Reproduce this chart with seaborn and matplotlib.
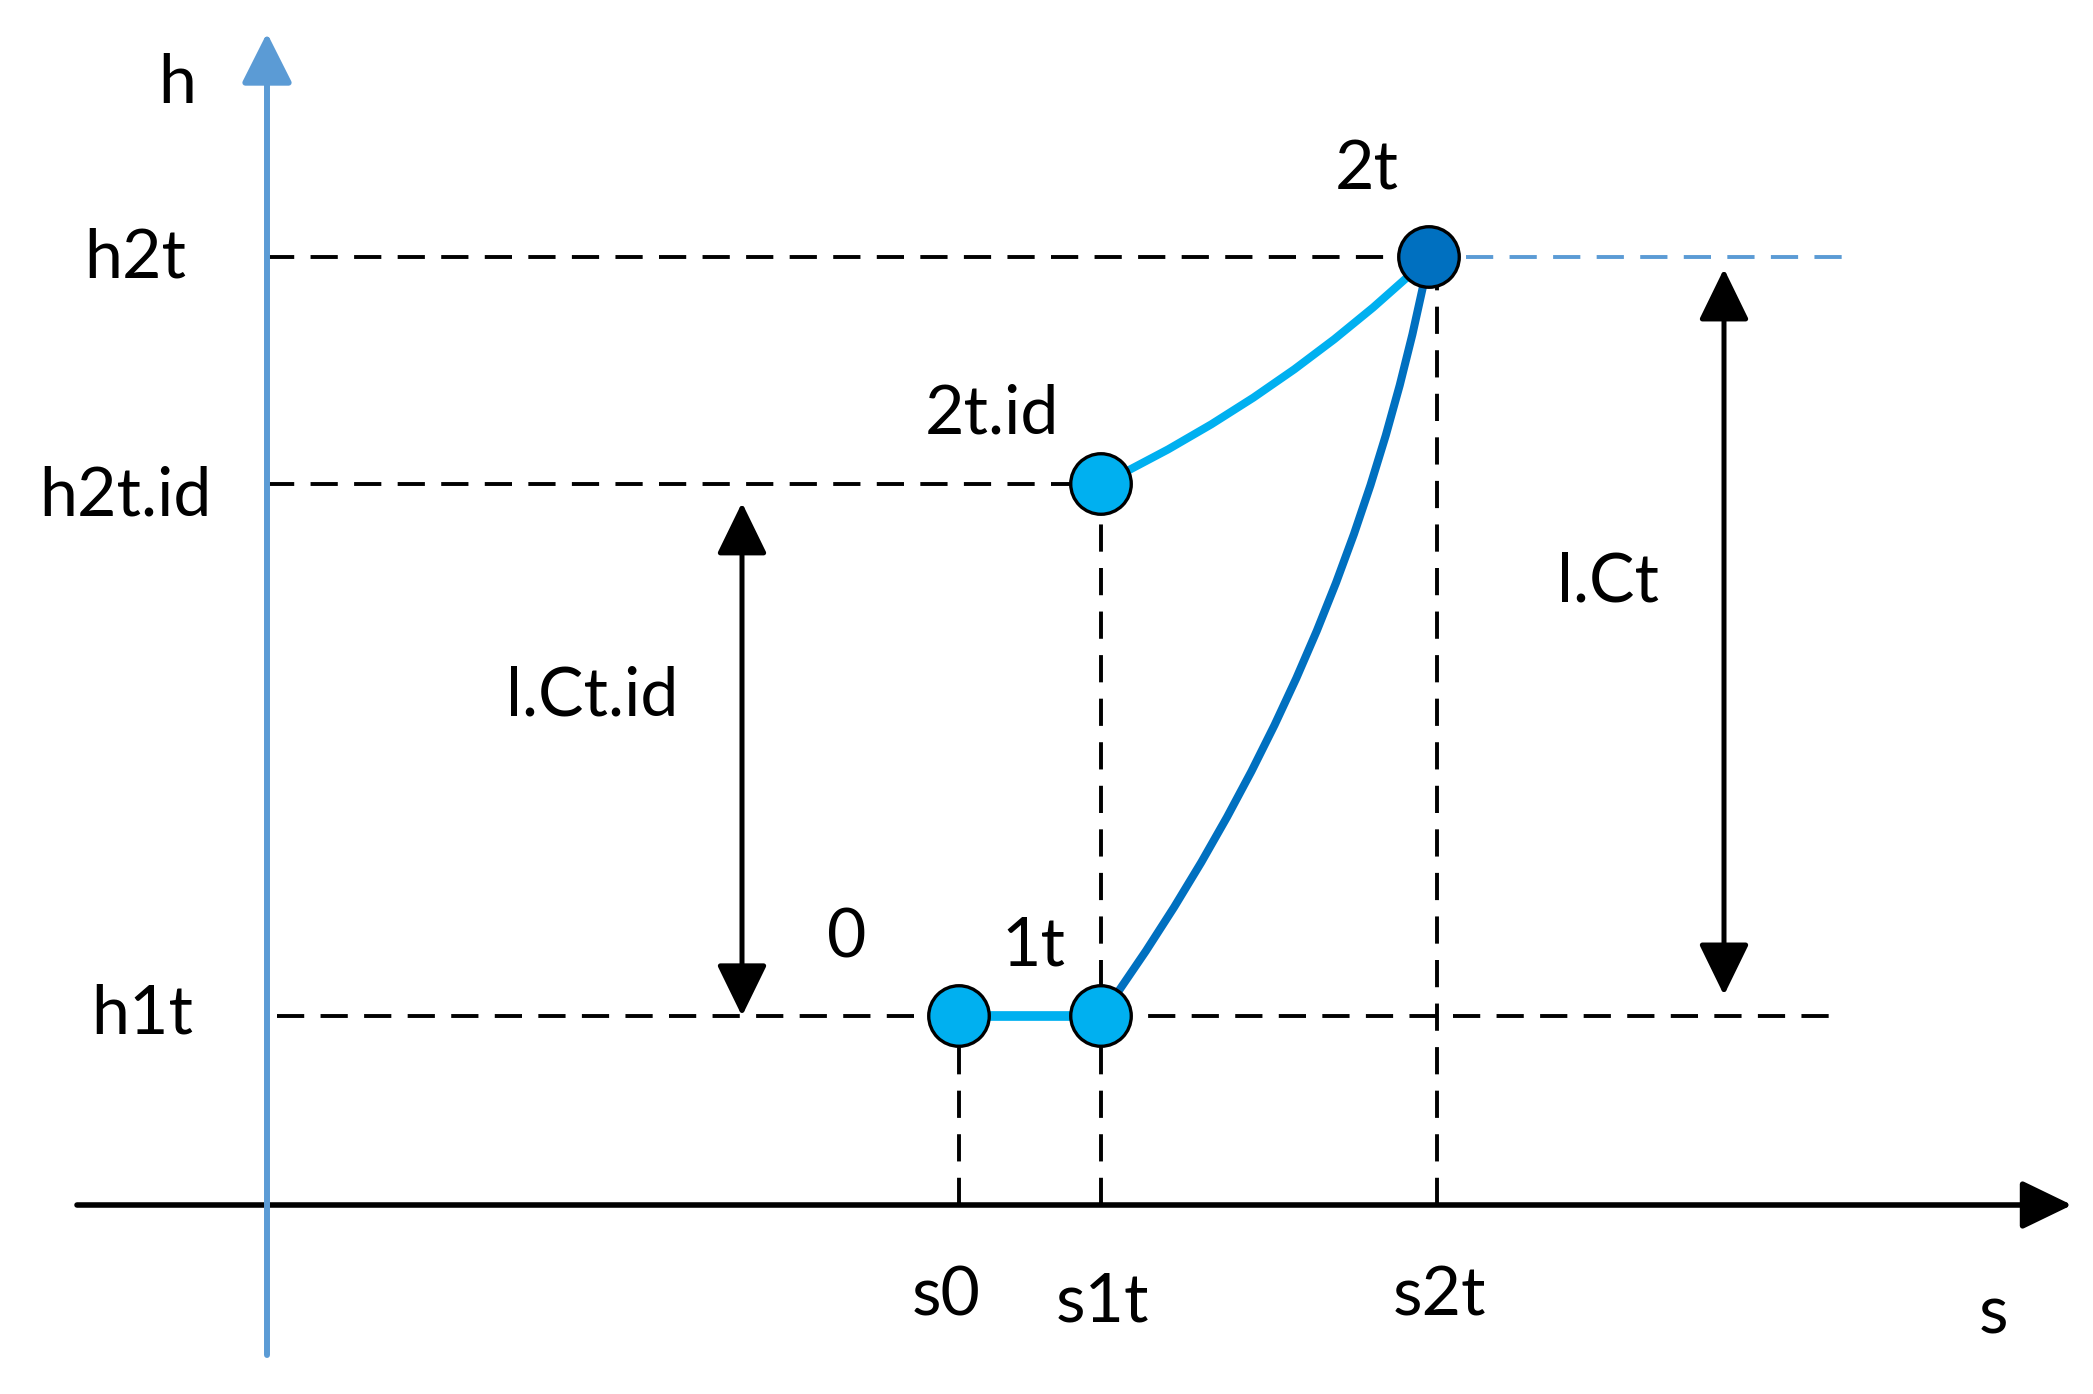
import matplotlib
matplotlib.use("Agg")
import matplotlib.pyplot as plt
import seaborn as sns
import pandas as pd

# ---- data (diagram units) ----
s_names = ["s0", "s1t", "s2t"]
s_values = [6.92, 8.34, 11.62]
h_names = ["h1t", "h2t.id", "h2t"]
h_values = [1.89, 7.21, 9.48]
state_names = ["0", "1t", "2t.id", "2t"]
state_s = [6.92, 8.34, 8.34, 11.62]
state_h = [1.89, 1.89, 7.21, 9.48]
state_colors = ["#00B0F0", "#00B0F0", "#00B0F0", "#0070C0"]

LIGHT = "#00B0F0"
DARK = "#0070C0"
AXBLUE = "#5B9BD5"

sns.set_theme(style="white")
plt.rcParams["font.family"] = ["Lato", "DejaVu Sans"]

fig = plt.figure(figsize=(20.93, 13.94), dpi=100)
ax = fig.add_axes([0, 0, 1, 1])
ax.set_xlim(-2.67, 18.26)
ax.set_ylim(-1.89, 12.05)
ax.axis("off")

S = dict(zip(s_names, s_values))
H = dict(zip(h_names, h_values))

dash = dict(color="black", lw=2.8, dashes=(7.0, 4.2), zorder=1, solid_capstyle="butt")
# horizontal guides
ax.plot([0, S["s2t"]], [H["h2t"], H["h2t"]], **dash)
ax.plot([S["s2t"] + 0.37, 15.77], [H["h2t"], H["h2t"]], color=AXBLUE, lw=2.8,
        dashes=(7.0, 4.2), zorder=1)
ax.plot([0, S["s1t"]], [H["h2t.id"], H["h2t.id"]], **dash)
ax.plot([0.10, 15.66], [H["h1t"], H["h1t"]], **dash)
# vertical guides
ax.plot([S["s0"], S["s0"]], [0, H["h1t"]], **dash)
ax.plot([S["s1t"], S["s1t"]], [0, H["h2t.id"]], **dash)
ax.plot([S["s2t"] + 0.08, S["s2t"] + 0.08], [0, H["h2t"]], **dash)

# axes arrows
ax.annotate("", xy=(18.05, 0), xytext=(-1.90, 0),
            arrowprops=dict(arrowstyle="-|>,head_length=1.55,head_width=0.75",
                            mutation_scale=20, lw=4.0, color="black",
                            shrinkA=0, shrinkB=0), zorder=2)
ax.annotate("", xy=(0, 11.72), xytext=(0, -1.50),
            arrowprops=dict(arrowstyle="-|>,head_length=1.55,head_width=0.78",
                            mutation_scale=20, lw=4.3, color=AXBLUE,
                            shrinkA=0, shrinkB=0), zorder=3)

# process lines
df01 = pd.DataFrame({"s": state_s[:2], "h": state_h[:2]})
sns.lineplot(data=df01, x="s", y="h", color=LIGHT, lw=7, ax=ax, zorder=4)
ax.annotate("", xy=(state_s[3], state_h[3]), xytext=(state_s[2], state_h[2]),
            arrowprops=dict(arrowstyle="-", color=LIGHT, lw=5.8,
                            connectionstyle="arc3,rad=0.08",
                            shrinkA=0, shrinkB=0), zorder=4)
ax.annotate("", xy=(state_s[3], state_h[3]), xytext=(state_s[1], state_h[1]),
            arrowprops=dict(arrowstyle="-", color=DARK, lw=5.8,
                            connectionstyle="arc3,rad=0.11",
                            shrinkA=0, shrinkB=0), zorder=4)

# state points
dfp = pd.DataFrame({"s": state_s, "h": state_h, "state": state_names})
sns.scatterplot(data=dfp, x="s", y="h", hue="state",
                palette=dict(zip(state_names, state_colors)),
                s=1900, edgecolor="black", linewidth=2.4, legend=False,
                ax=ax, zorder=6)

# double arrows
ax.annotate("", xy=(4.75, H["h1t"]), xytext=(4.75, H["h2t.id"]),
            arrowprops=dict(arrowstyle="<|-|>,head_length=1.6,head_width=0.78",
                            mutation_scale=20, lw=3.6, color="black",
                            shrinkA=13.5, shrinkB=0), zorder=5)
ax.annotate("", xy=(14.57, H["h1t"]), xytext=(14.57, H["h2t"]),
            arrowprops=dict(arrowstyle="<|-|>,head_length=1.6,head_width=0.78",
                            mutation_scale=20, lw=3.6, color="black",
                            shrinkA=8.5, shrinkB=15), zorder=5)

# labels
fs = 49
labels = [
    ("h", -0.90, 11.02),
    ("h2t", -1.32, 9.28),
    ("h2t.id", -1.42, 6.90),
    ("h1t", -1.25, 1.71),
    ("2t", 11.00, 10.15),
    ("2t.id", 7.25, 7.72),
    ("0", 5.80, 2.47),
    ("1t", 7.66, 2.40),
    ("l.Ct.id", 3.25, 4.90),
    ("l.Ct", 13.41, 6.03),
    ("s0", 6.79, -1.10),
    ("s1t", 8.35, -1.16),
    ("s2t", 11.72, -1.10),
    ("s", 17.26, -1.28),
]
for txt, x, y in labels:
    ax.text(x, y, txt, fontsize=fs, ha="center", va="baseline", color="black")

fig.savefig("out.png", dpi=100, facecolor="white")
